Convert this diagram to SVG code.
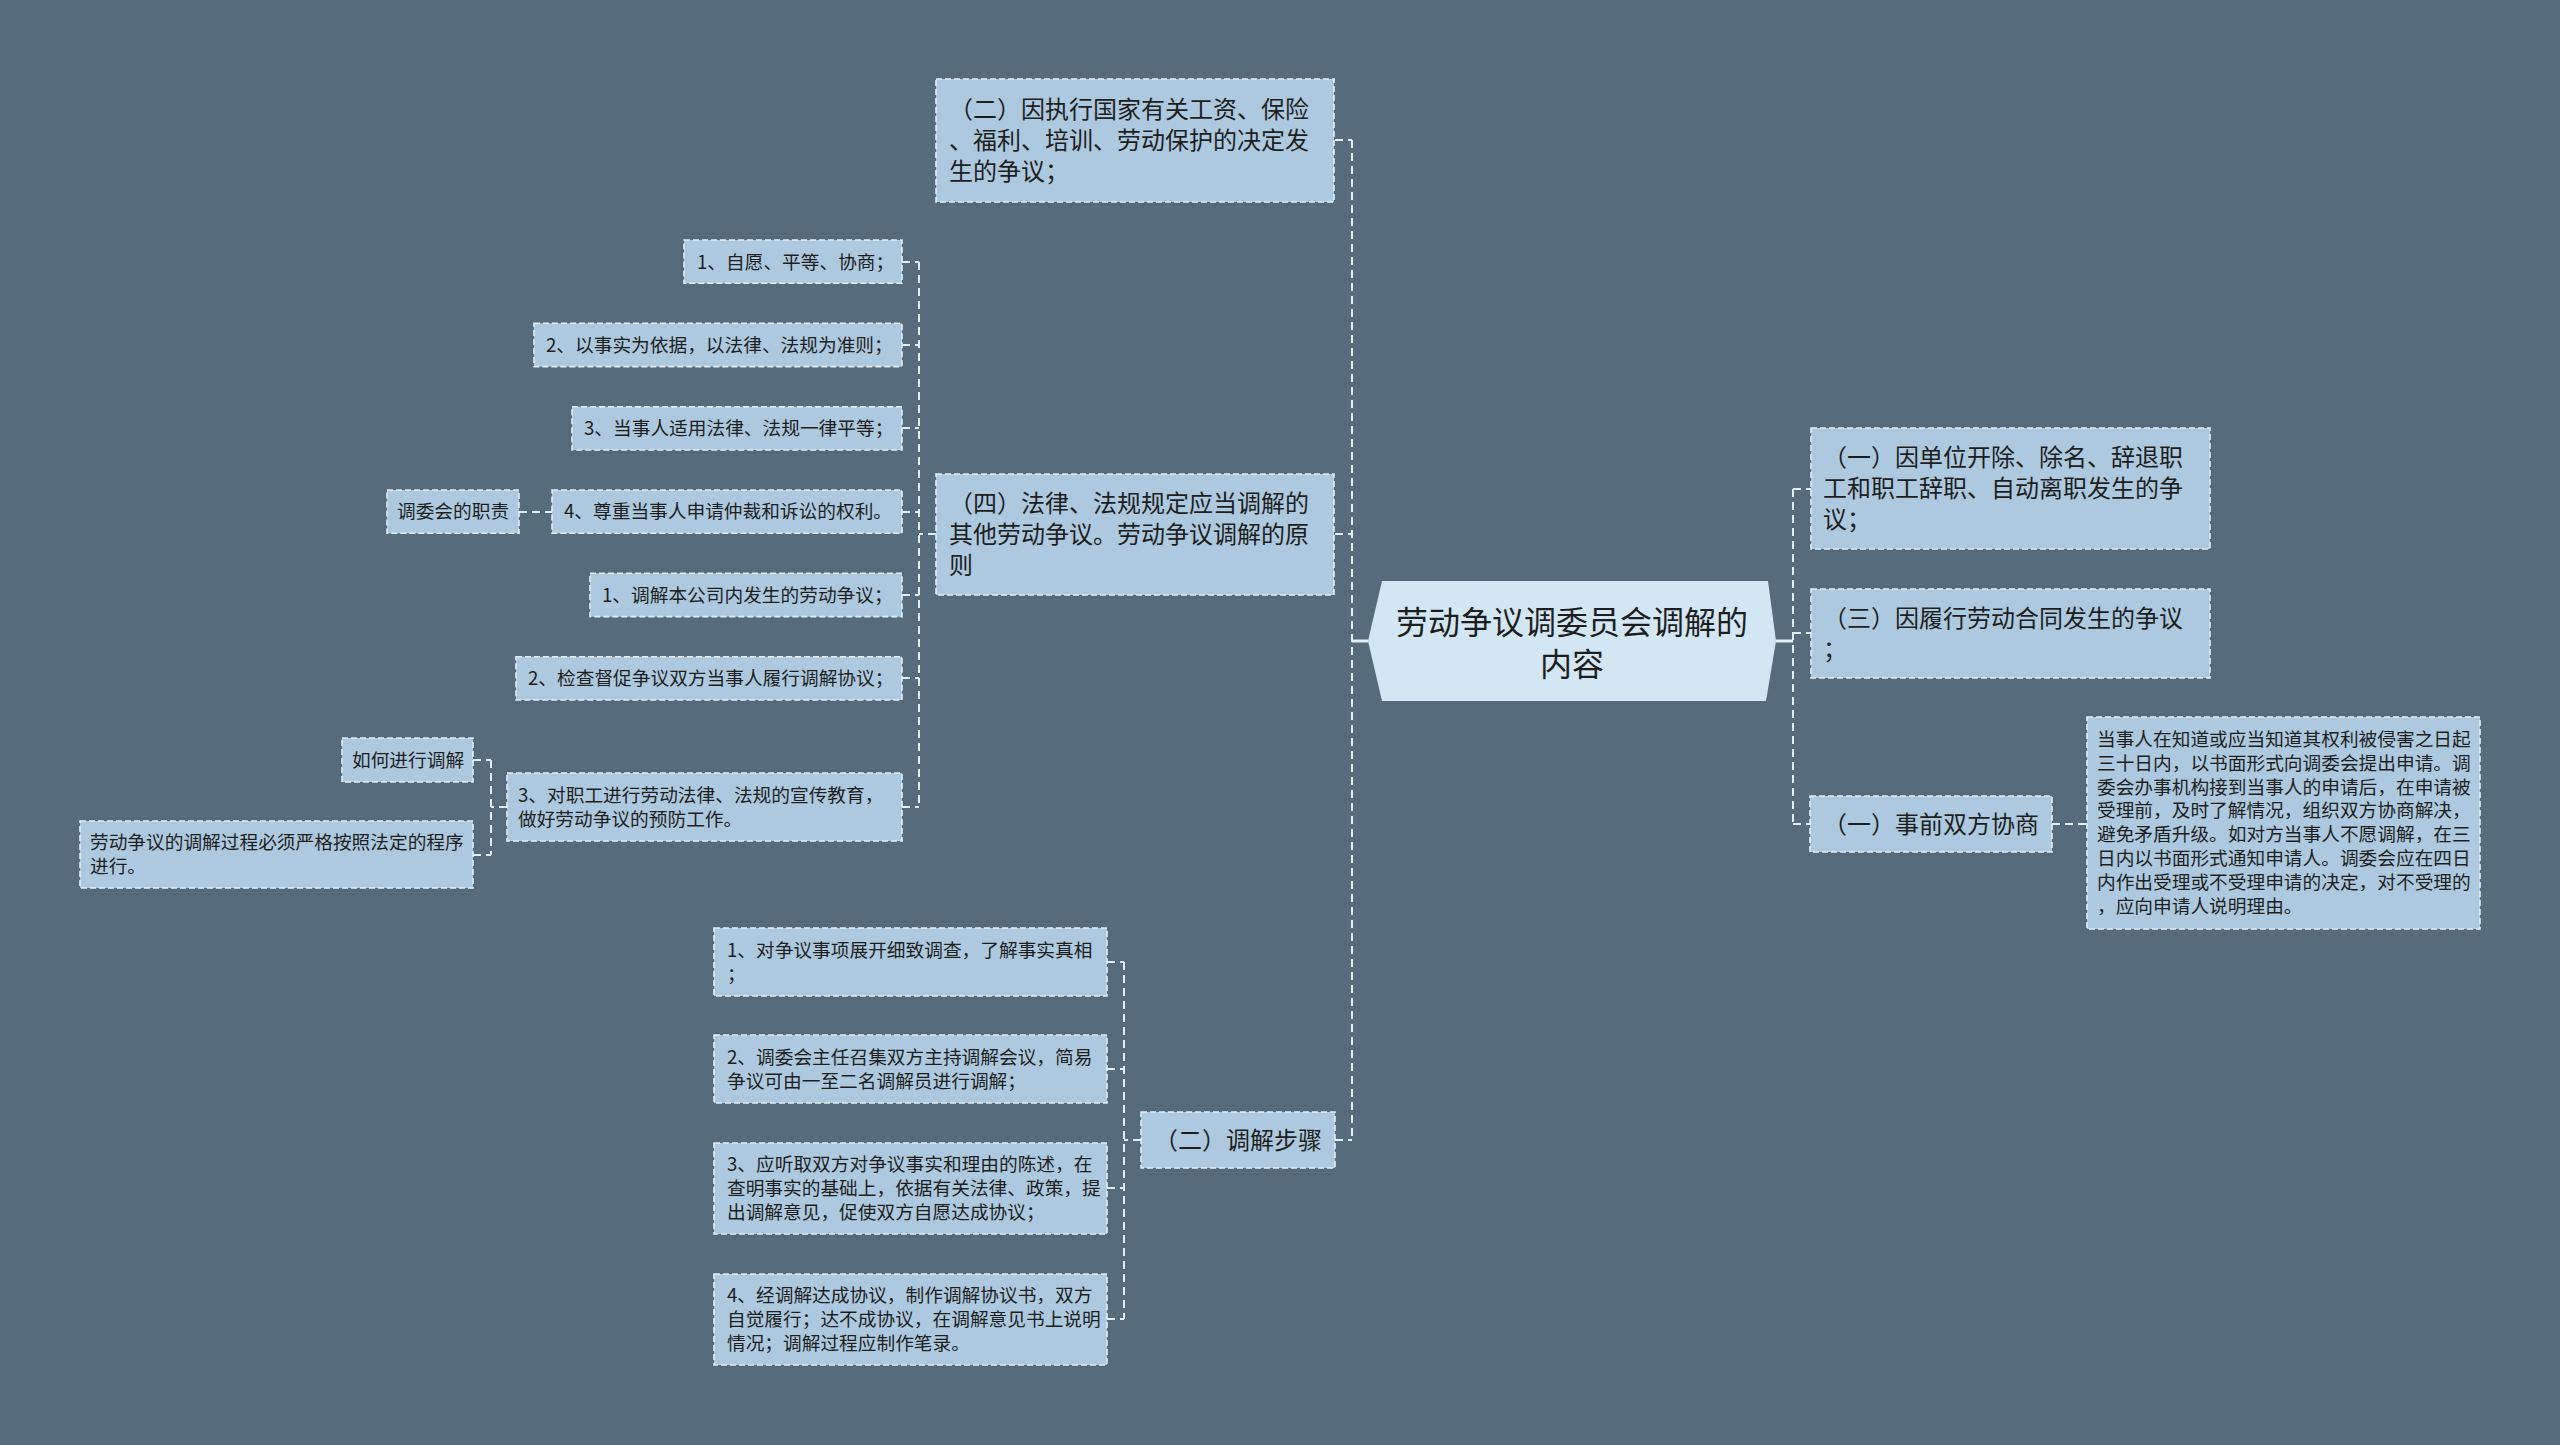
<svg xmlns="http://www.w3.org/2000/svg" width="2560" height="1445" viewBox="0 0 2560 1445">
<style>
.bg{fill:#566b7b}
.box{fill:#adc9df;stroke:#e4eef5;stroke-width:1.6;stroke-dasharray:6 3}
.root{fill:#d2e7f3}
.t{font-family:"Noto Sans CJK SC","Noto Sans",sans-serif;fill:#1e1e1e}
.f24{font-size:24px}
.f19{font-size:18.7px}
.f32{font-size:32px}
.c{fill:none;stroke:#e4eef5;stroke-width:2;stroke-dasharray:8 5}
.s{fill:none;stroke:#e4eef5;stroke-width:3}
</style>
<rect class="bg" x="0" y="0" width="2560" height="1445"/>

<g id="connectors">
  <path class="s" d="M1368,641 H1352"/>
  <path class="s" d="M1776,641 H1793"/>
  <path class="c" d="M1352,140 V1140"/>
  <path class="c" d="M1335,140 H1352 M1335,534 H1352 M1335,1140 H1352"/>
  <path class="c" d="M1793,489 V824"/>
  <path class="c" d="M1793,489 H1811 M1793,633 H1811 M1793,824 H1810"/>
  <path class="c" d="M2052,824 H2087"/>
  <path class="c" d="M919,262 V807"/>
  <path class="c" d="M936,534 H919"/>
  <path class="c" d="M902,262 H919 M902,345 H919 M902,428 H919 M902,512 H919 M902,595 H919 M902,678 H919 M902,807 H919"/>
  <path class="c" d="M519,512 H552"/>
  <path class="c" d="M491,760 V855"/>
  <path class="c" d="M507,807 H491 M473,760 H491 M473,855 H491"/>
  <path class="c" d="M1124,962 V1319"/>
  <path class="c" d="M1141,1140 H1124 M1107,962 H1124 M1107,1069 H1124 M1107,1188 H1124 M1107,1319 H1124"/>
</g>

<g id="root">
  <polygon class="root" points="1382,581 1768,581 1776,641 1766,701 1382,701 1368,641"/>
  <text class="t f32" x="1572" y="634" text-anchor="middle">劳动争议调委员会调解的</text>
  <text class="t f32" x="1572" y="676" text-anchor="middle">内容</text>
</g>

<g id="n-er-gongzi">
  <rect class="box" x="936" y="79" width="398" height="123"/>
  <text class="t f24" x="949" y="118">（二）因执行国家有关工资、保险</text>
  <text class="t f24" x="949" y="149">、福利、培训、劳动保护的决定发</text>
  <text class="t f24" x="949" y="180">生的争议；</text>
</g>

<g id="n-si">
  <rect class="box" x="936" y="474" width="398" height="121"/>
  <text class="t f24" x="949" y="512">（四）法律、法规规定应当调解的</text>
  <text class="t f24" x="949" y="543">其他劳动争议。劳动争议调解的原</text>
  <text class="t f24" x="949" y="574">则</text>
</g>

<g id="n-er-buzhou">
  <rect class="box" x="1141" y="1112" width="194" height="56"/>
  <text class="t f24" x="1154" y="1148.5">（二）调解步骤</text>
</g>

<g id="n-yi-danwei">
  <rect class="box" x="1811" y="428" width="399" height="121"/>
  <text class="t f24" x="1823" y="466">（一）因单位开除、除名、辞退职</text>
  <text class="t f24" x="1823" y="497">工和职工辞职、自动离职发生的争</text>
  <text class="t f24" x="1823" y="528">议；</text>
</g>

<g id="n-san">
  <rect class="box" x="1811" y="589" width="399" height="89"/>
  <text class="t f24" x="1823" y="626.5">（三）因履行劳动合同发生的争议</text>
  <text class="t f24" x="1823" y="657.5">；</text>
</g>

<g id="n-yi-shiqian">
  <rect class="box" x="1810" y="796" width="242" height="56"/>
  <text class="t f24" x="1823" y="832.5">（一）事前双方协商</text>
</g>

<g id="n-detail">
  <rect class="box" x="2087" y="717" width="393" height="212"/>
  <text class="t f19" x="2097" y="746">当事人在知道或应当知道其权利被侵害之日起</text>
  <text class="t f19" x="2097" y="770">三十日内，以书面形式向调委会提出申请。调</text>
  <text class="t f19" x="2097" y="794">委会办事机构接到当事人的申请后，在申请被</text>
  <text class="t f19" x="2097" y="817">受理前，及时了解情况，组织双方协商解决，</text>
  <text class="t f19" x="2097" y="841">避免矛盾升级。如对方当事人不愿调解，在三</text>
  <text class="t f19" x="2097" y="865">日内以书面形式通知申请人。调委会应在四日</text>
  <text class="t f19" x="2097" y="889">内作出受理或不受理申请的决定，对不受理的</text>
  <text class="t f19" x="2097" y="913">，应向申请人说明理由。</text>
</g>

<g id="n-p1">
  <rect class="box" x="684" y="240" width="218" height="43.3"/>
  <text class="t f19" x="697" y="268.5">1、自愿、平等、协商；</text>
</g>
<g id="n-p2">
  <rect class="box" x="534" y="323.3" width="368" height="43.3"/>
  <text class="t f19" x="546" y="351.5">2、以事实为依据，以法律、法规为准则；</text>
</g>
<g id="n-p3">
  <rect class="box" x="572" y="406.7" width="330" height="43.3"/>
  <text class="t f19" x="584" y="435">3、当事人适用法律、法规一律平等；</text>
</g>
<g id="n-p4">
  <rect class="box" x="552" y="490" width="350" height="43.3"/>
  <text class="t f19" x="564" y="518">4、尊重当事人申请仲裁和诉讼的权利。</text>
</g>
<g id="n-zhize">
  <rect class="box" x="387" y="490" width="132" height="43.3"/>
  <text class="t f19" x="397" y="518">调委会的职责</text>
</g>
<g id="n-d1">
  <rect class="box" x="590" y="573.3" width="312" height="43.3"/>
  <text class="t f19" x="602" y="601.5">1、调解本公司内发生的劳动争议；</text>
</g>
<g id="n-d2">
  <rect class="box" x="516" y="656.7" width="386" height="43.3"/>
  <text class="t f19" x="528" y="685">2、检查督促争议双方当事人履行调解协议；</text>
</g>
<g id="n-d3">
  <rect class="box" x="507" y="773" width="395" height="68"/>
  <text class="t f19" x="518" y="801.5">3、对职工进行劳动法律、法规的宣传教育，</text>
  <text class="t f19" x="518" y="825.5">做好劳动争议的预防工作。</text>
</g>
<g id="n-ruhe">
  <rect class="box" x="342" y="738" width="131" height="44"/>
  <text class="t f19" x="352" y="766.5">如何进行调解</text>
</g>
<g id="n-chengxu">
  <rect class="box" x="80" y="821" width="393" height="67"/>
  <text class="t f19" x="90" y="849">劳动争议的调解过程必须严格按照法定的程序</text>
  <text class="t f19" x="90" y="873">进行。</text>
</g>

<g id="n-s1">
  <rect class="box" x="714" y="928" width="393" height="68"/>
  <text class="t f19" x="727" y="956.5">1、对争议事项展开细致调查，了解事实真相</text>
  <text class="t f19" x="727" y="980.5">；</text>
</g>
<g id="n-s2">
  <rect class="box" x="714" y="1035" width="393" height="68"/>
  <text class="t f19" x="727" y="1063.5">2、调委会主任召集双方主持调解会议，简易</text>
  <text class="t f19" x="727" y="1087.5">争议可由一至二名调解员进行调解；</text>
</g>
<g id="n-s3">
  <rect class="box" x="714" y="1143" width="393" height="91"/>
  <text class="t f19" x="727" y="1171">3、应听取双方对争议事实和理由的陈述，在</text>
  <text class="t f19" x="727" y="1195">查明事实的基础上，依据有关法律、政策，提</text>
  <text class="t f19" x="727" y="1219">出调解意见，促使双方自愿达成协议；</text>
</g>
<g id="n-s4">
  <rect class="box" x="714" y="1274" width="393" height="91"/>
  <text class="t f19" x="727" y="1302">4、经调解达成协议，制作调解协议书，双方</text>
  <text class="t f19" x="727" y="1326">自觉履行；达不成协议，在调解意见书上说明</text>
  <text class="t f19" x="727" y="1350">情况；调解过程应制作笔录。</text>
</g>
</svg>
